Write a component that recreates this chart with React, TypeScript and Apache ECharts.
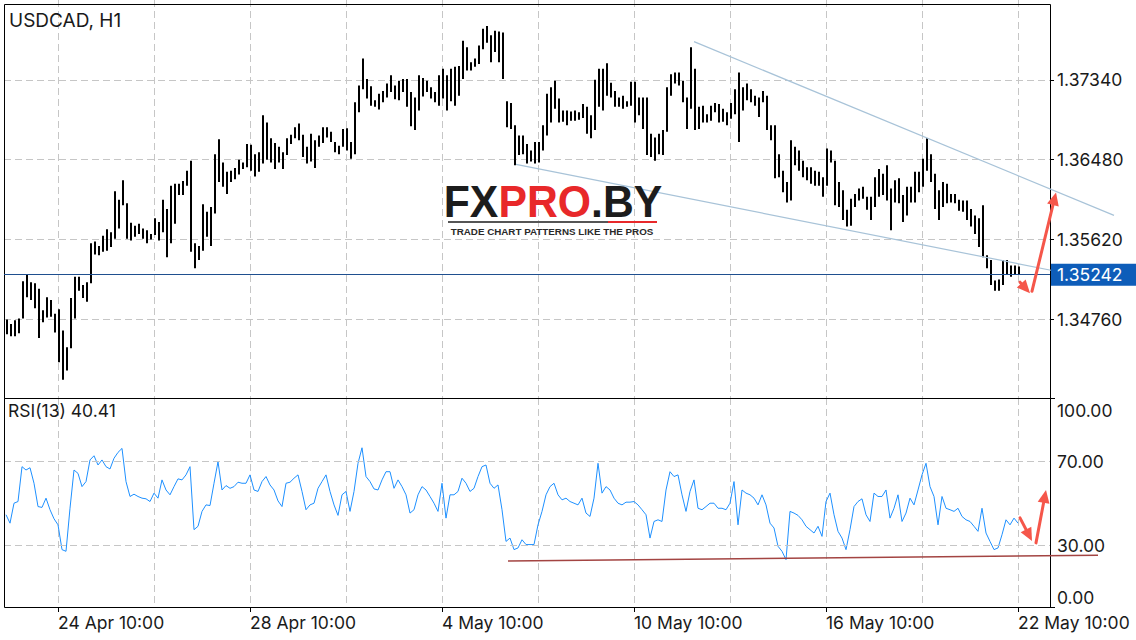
import React, { useEffect, useRef } from 'react';
import * as echarts from 'echarts';

// ---- Data (2-hour aggregated bars) ----
const priceHigh = [
  1.3476, 1.3471, 1.3475, 1.3477, 1.3517, 1.3525, 1.3516, 1.3515, 1.3509, 1.3486,
  1.3500, 1.3497, 1.3482, 1.3487, 1.3464, 1.3446, 1.3499, 1.3522, 1.3522, 1.3513,
  1.3516, 1.3558, 1.3560, 1.3555, 1.3566, 1.3573, 1.3570, 1.3614, 1.3605, 1.3626,
  1.3601, 1.3580, 1.3577, 1.3579, 1.3574, 1.3572, 1.3568, 1.3585, 1.3581, 1.3605,
  1.3595, 1.3620, 1.3622, 1.3622, 1.3625, 1.3636, 1.3647, 1.3558, 1.3555, 1.3600,
  1.3592, 1.3597, 1.3654, 1.3670, 1.3645, 1.3635, 1.3636, 1.3639, 1.3648, 1.3645,
  1.3665, 1.3664, 1.3654, 1.3656, 1.3696, 1.3688, 1.3671, 1.3666, 1.3662, 1.3656,
  1.3671, 1.3675, 1.3683, 1.3687, 1.3675, 1.3662, 1.3676, 1.3669, 1.3674, 1.3683,
  1.3683, 1.3678, 1.3667, 1.3663, 1.3681, 1.3682, 1.3667, 1.3710, 1.3728, 1.3757,
  1.3735, 1.3727, 1.3712, 1.3719, 1.3722, 1.3730, 1.3739, 1.3728, 1.3733, 1.3735,
  1.3735, 1.3721, 1.3715, 1.3739, 1.3736, 1.3733, 1.3726, 1.3721, 1.3739, 1.3746,
  1.3739, 1.3746, 1.3748, 1.3749, 1.3776, 1.3769, 1.3753, 1.3757, 1.3771, 1.3789,
  1.3792, 1.3782, 1.3787, 1.3786, 1.3785, 1.3711, 1.3709, 1.3685, 1.3674, 1.3674,
  1.3665, 1.3658, 1.3667, 1.3667, 1.3685, 1.3719, 1.3726, 1.3733, 1.3714, 1.3701,
  1.3701, 1.3700, 1.3701, 1.3699, 1.3708, 1.3705, 1.3696, 1.3734, 1.3746, 1.3746,
  1.3752, 1.3731, 1.3722, 1.3715, 1.3717, 1.3711, 1.3732, 1.3732, 1.3715, 1.3715,
  1.3715, 1.3676, 1.3672, 1.3676, 1.3680, 1.3726, 1.3740, 1.3742, 1.3742, 1.3733,
  1.3715, 1.3769, 1.3746, 1.3705, 1.3706, 1.3697, 1.3706, 1.3709, 1.3708, 1.3703,
  1.3699, 1.3709, 1.3724, 1.3742, 1.3726, 1.3730, 1.3724, 1.3717, 1.3715, 1.3722,
  1.3717, 1.3685, 1.3685, 1.3654, 1.3636, 1.3624, 1.3669, 1.3662, 1.3658, 1.3647,
  1.3640, 1.3640, 1.3636, 1.3635, 1.3629, 1.3660, 1.3658, 1.3647, 1.3624, 1.3615,
  1.3594, 1.3606, 1.3611, 1.3617, 1.3619, 1.3608, 1.3608, 1.3629, 1.3638, 1.3633,
  1.3642, 1.3617, 1.3626, 1.3628, 1.3610, 1.3619, 1.3619, 1.3635, 1.3635, 1.3649,
  1.3671, 1.3654, 1.3633, 1.3615, 1.3624, 1.3622, 1.3611, 1.3611, 1.3605, 1.3604,
  1.3604, 1.3595, 1.3588, 1.3585, 1.3599, 1.3545, 1.3540, 1.3518, 1.3519, 1.3540,
  1.3540, 1.3534, 1.3534, 1.3533,
];

const priceLow = [
  1.3460, 1.3458, 1.3458, 1.3461, 1.3477, 1.3500, 1.3497, 1.3488, 1.3456, 1.3473,
  1.3478, 1.3479, 1.3462, 1.3430, 1.3411, 1.3421, 1.3445, 1.3477, 1.3507, 1.3499,
  1.3495, 1.3515, 1.3546, 1.3545, 1.3549, 1.3550, 1.3554, 1.3563, 1.3574, 1.3599,
  1.3563, 1.3561, 1.3565, 1.3568, 1.3563, 1.3558, 1.3562, 1.3567, 1.3561, 1.3570,
  1.3543, 1.3558, 1.3579, 1.3610, 1.3610, 1.3620, 1.3549, 1.3531, 1.3540, 1.3550,
  1.3565, 1.3555, 1.3590, 1.3624, 1.3619, 1.3611, 1.3624, 1.3627, 1.3632, 1.3638,
  1.3640, 1.3636, 1.3630, 1.3635, 1.3644, 1.3648, 1.3645, 1.3638, 1.3645, 1.3638,
  1.3653, 1.3665, 1.3671, 1.3669, 1.3651, 1.3644, 1.3646, 1.3639, 1.3662, 1.3666,
  1.3672, 1.3667, 1.3656, 1.3654, 1.3662, 1.3658, 1.3649, 1.3654, 1.3699, 1.3724,
  1.3714, 1.3706, 1.3705, 1.3702, 1.3710, 1.3715, 1.3721, 1.3713, 1.3712, 1.3721,
  1.3705, 1.3684, 1.3680, 1.3701, 1.3716, 1.3721, 1.3714, 1.3710, 1.3706, 1.3714,
  1.3701, 1.3711, 1.3706, 1.3717, 1.3735, 1.3744, 1.3744, 1.3748, 1.3751, 1.3767,
  1.3774, 1.3753, 1.3764, 1.3753, 1.3735, 1.3683, 1.3681, 1.3642, 1.3653, 1.3654,
  1.3644, 1.3646, 1.3644, 1.3645, 1.3658, 1.3674, 1.3688, 1.3703, 1.3688, 1.3689,
  1.3685, 1.3690, 1.3690, 1.3691, 1.3693, 1.3676, 1.3671, 1.3680, 1.3705, 1.3701,
  1.3717, 1.3715, 1.3705, 1.3705, 1.3703, 1.3705, 1.3706, 1.3688, 1.3696, 1.3681,
  1.3653, 1.3651, 1.3647, 1.3654, 1.3653, 1.3678, 1.3717, 1.3730, 1.3728, 1.3710,
  1.3681, 1.3703, 1.3680, 1.3681, 1.3688, 1.3688, 1.3690, 1.3699, 1.3688, 1.3689,
  1.3685, 1.3692, 1.3697, 1.3667, 1.3701, 1.3712, 1.3710, 1.3706, 1.3694, 1.3710,
  1.3680, 1.3669, 1.3628, 1.3629, 1.3613, 1.3602, 1.3604, 1.3642, 1.3636, 1.3629,
  1.3626, 1.3622, 1.3620, 1.3620, 1.3608, 1.3620, 1.3645, 1.3599, 1.3597, 1.3583,
  1.3576, 1.3577, 1.3597, 1.3604, 1.3606, 1.3594, 1.3583, 1.3597, 1.3608, 1.3610,
  1.3604, 1.3572, 1.3602, 1.3601, 1.3581, 1.3588, 1.3602, 1.3602, 1.3613, 1.3619,
  1.3636, 1.3624, 1.3595, 1.3583, 1.3597, 1.3601, 1.3602, 1.3601, 1.3593, 1.3592,
  1.3583, 1.3576, 1.3568, 1.3554, 1.3543, 1.3531, 1.3513, 1.3507, 1.3507, 1.3513,
  1.3524, 1.3522, 1.3524, 1.3525,
];

const rsiValues = [
  44.4, 40.4, 49.9, 50.7, 67.3, 65.7, 66.8, 59.4, 48.3, 47.9,
  52.3, 46.8, 42.5, 39.6, 27.8, 27.0, 47.5, 65.7, 64.1, 57.8,
  60.2, 70.5, 72.5, 68.1, 70.5, 67.3, 66.2, 71.3, 74.1, 76.0,
  60.2, 53.1, 54.2, 53.1, 52.3, 52.0, 50.7, 54.7, 52.3, 61.0,
  56.2, 53.9, 57.8, 61.5, 61.0, 63.4, 67.3, 37.3, 38.9, 46.0,
  49.1, 48.8, 59.4, 69.7, 56.2, 58.3, 57.0, 57.8, 59.9, 59.4,
  59.4, 63.4, 56.2, 55.5, 60.2, 62.6, 58.6, 56.2, 51.0, 48.3,
  59.4, 59.9, 61.8, 63.4, 55.5, 46.8, 49.1, 49.9, 57.0, 60.2,
  63.4, 55.5, 49.1, 44.1, 53.9, 55.5, 46.0, 55.5, 68.9, 76.3,
  62.6, 60.2, 56.7, 56.2, 61.0, 64.9, 64.9, 57.0, 61.0, 57.8,
  53.9, 45.2, 46.8, 53.9, 57.8, 56.2, 53.1, 49.9, 46.0, 59.4,
  42.8, 53.9, 53.9, 55.5, 61.8, 59.4, 55.5, 57.0, 62.6, 67.3,
  68.1, 59.4, 57.0, 58.6, 46.8, 31.7, 33.3, 27.8, 28.6, 32.5,
  30.2, 30.2, 30.2, 39.6, 46.0, 53.9, 57.8, 59.4, 53.9, 51.5,
  52.3, 50.7, 49.9, 49.1, 52.3, 45.2, 43.6, 52.3, 68.9, 54.7,
  57.8, 56.2, 52.3, 49.9, 49.1, 50.4, 50.4, 50.7, 49.1, 46.8,
  44.4, 33.3, 41.2, 42.0, 41.2, 56.2, 64.9, 62.6, 63.4, 53.9,
  46.0, 55.5, 61.0, 47.5, 46.8, 48.3, 49.9, 49.9, 47.5, 47.5,
  46.8, 49.9, 60.2, 39.6, 56.2, 54.7, 53.9, 52.3, 49.1, 53.9,
  49.1, 40.4, 38.1, 29.4, 27.0, 23.0, 46.0, 45.2, 44.1, 42.0,
  38.9, 37.3, 35.7, 38.9, 34.1, 50.7, 54.7, 44.4, 36.5, 33.3,
  27.8, 37.3, 48.3, 50.7, 52.0, 44.4, 41.2, 54.7, 53.1, 53.1,
  56.2, 42.8, 47.5, 53.9, 41.2, 45.2, 52.3, 49.1, 56.2, 63.4,
  68.9, 57.8, 53.1, 39.6, 53.1, 47.5, 46.8, 46.0, 47.5, 43.6,
  42.0, 41.2, 38.9, 36.5, 47.5, 35.7, 31.7, 27.8, 28.6, 34.9,
  42.0, 39.6, 42.8, 40.4,
];

const lastPrice = 1.35242;
const rsiLast = 40.41;
const symbolTitle = 'USDCAD, H1';

// hourly slots on the time axis; bar j sits at slot 2j+1
const slotCount = 524;
const xTickSlots = [27, 123, 219, 315, 411, 507];
const xTickLabels = ['24 Apr 10:00', '28 Apr 10:00', '4 May 10:00', '10 May 10:00', '16 May 10:00', '22 May 10:00'];
const gridSlotStart = 27;
const gridSlotStep = 48;

const priceMin = 1.339;
const priceMax = 1.382;
const priceStep = 0.0086;
const rsiLevels = [30, 70];

// drawn annotations in data units: [slot, value]
const upperTrend = [[345, 1.37752], [555, 1.35881]];
const lowerTrend = [[256, 1.3643], [526, 1.35279]];
const rsiTrend = [[252, 22.4], [547, 25.1]];
const priceArrows = [
  [[508, 1.35161], [513, 1.35043]],
  [[514, 1.35064], [526, 1.36128]],
];
const rsiArrows = [
  [[508, 42.9], [514, 31.9]],
  [[516, 31.0], [521, 56.2]],
];

const FONT = 'Inter, "Liberation Sans", Arial, sans-serif';
const TEXT = '#1a1a1a';
const GRIDC = '#c6c6c6';
const RED = '#f5564a';

export default function App() {
  const ref = useRef<HTMLDivElement>(null);

  useEffect(() => {
    const chart = echarts.init(ref.current as HTMLDivElement, null, { renderer: 'svg' });
    const cats = Array.from({ length: slotCount }, (_, i) => String(i));
    const labelAt = new Map<number, string>(xTickSlots.map((s, i) => [s, xTickLabels[i]]));
    const isGridSlot = (i: number) => i >= gridSlotStart && (i - gridSlotStart) % gridSlotStep === 0;
    const splitLine = { show: true, interval: (i: number) => isGridSlot(i), lineStyle: { color: GRIDC, type: [7, 4], width: 1 } };

    const barData = priceHigh.map((h, j) => [2 * j + 1, h, priceLow[j]]);
    const rsiData = rsiValues.map((v, j) => [2 * j + 1, v]);

    const option: any = {
      animation: false,
      backgroundColor: '#ffffff',
      grid: [
        { left: 4, width: 1046, top: -0.7, height: 400 },
        { left: 4, width: 1046, top: 398, height: 210 },
      ],
      xAxis: [
        {
          type: 'category', gridIndex: 0, data: cats, boundaryGap: false,
          axisLine: { show: false }, axisTick: { show: false }, axisLabel: { show: false },
          splitLine,
        },
        {
          type: 'category', gridIndex: 1, data: cats, boundaryGap: false,
          axisLine: { show: false },
          axisTick: { show: true, interval: (i: number) => labelAt.has(i), length: 4, lineStyle: { color: '#000' } },
          axisLabel: {
            show: true, interval: (i: number) => labelAt.has(i),
            formatter: (v: string) => labelAt.get(Number(v)) || '',
            align: 'left', margin: 5, fontSize: 17.5, color: TEXT, fontFamily: FONT,
          },
          splitLine,
        },
      ],
      yAxis: [
        {
          type: 'value', gridIndex: 0, position: 'right', min: priceMin, max: priceMax, interval: priceStep,
          axisLine: { show: false },
          axisTick: { show: true, length: 4, lineStyle: { color: '#000' } },
          axisLabel: {
            showMinLabel: false, showMaxLabel: false, formatter: (v: number) => v.toFixed(5),
            margin: 7, fontSize: 17.5, color: TEXT, fontFamily: FONT,
          },
          splitLine: { show: true, showMinLine: false, showMaxLine: false, lineStyle: { color: GRIDC, type: [7, 4], width: 1 } },
        },
        {
          type: 'value', gridIndex: 1, position: 'right', min: 0, max: 100, interval: 10,
          axisLine: { show: false }, axisTick: { show: false },
          axisLabel: {
            formatter: (v: number) => (rsiLevels.includes(v) ? v.toFixed(2) : ''),
            margin: 7, fontSize: 17.5, color: TEXT, fontFamily: FONT,
          },
          splitLine: { show: false },
        },
      ],
      series: [
        {
          type: 'custom', xAxisIndex: 0, yAxisIndex: 0, data: barData,
          encode: { x: 0, y: [1, 2] },
          renderItem: (params: any, api: any) => {
            const c = api.value(0);
            const hi = api.coord([c, api.value(1)]);
            const lo = api.coord([c, api.value(2)]);
            return {
              type: 'rect',
              shape: { x: hi[0], y: hi[1], width: 2, height: Math.max(1, lo[1] - hi[1]) },
              style: { fill: '#000' },
            };
          },
        },
        {
          type: 'line', xAxisIndex: 1, yAxisIndex: 1, data: rsiData,
          showSymbol: false, symbol: 'none',
          lineStyle: { color: '#1e90ff', width: 1 },
          markLine: {
            silent: true, symbol: ['none', 'none'], animation: false,
            data: rsiLevels.map((v) => ({ yAxis: v })),
            lineStyle: { color: GRIDC, type: [7, 4], width: 1 },
            label: { show: false },
          },
        },
      ],
    };
    chart.setOption(option);

    const px = (g: number, p: number[]) => chart.convertToPixel({ gridIndex: g } as any, p) as number[];
    const lineEl = (a: number[], b: number[], stroke: string, w: number, z = 50) => ({
      type: 'line', z, silent: true,
      shape: { x1: a[0], y1: a[1], x2: b[0], y2: b[1] },
      style: { stroke, lineWidth: w },
    });
    const arrowEls = (a: number[], b: number[]) => {
      const dx = b[0] - a[0], dy = b[1] - a[1];
      const len = Math.hypot(dx, dy);
      const ux = dx / len, uy = dy / len;
      const hl = 13, hw = 6;
      const bx = b[0] - ux * hl, by = b[1] - uy * hl;
      return [
        { type: 'line', z: 60, silent: true, shape: { x1: a[0], y1: a[1], x2: bx + ux * 2, y2: by + uy * 2 }, style: { stroke: RED, lineWidth: 3, lineCap: 'round' } },
        { type: 'polygon', z: 60, silent: true, shape: { points: [[b[0], b[1]], [bx - uy * hw, by + ux * hw], [bx + uy * hw, by - ux * hw]] }, style: { fill: RED } },
      ];
    };

    const priceY = px(0, [0, lastPrice])[1];
    const lineY = Math.round(priceY) - 0.5;
    const els: any[] = [];
    // frames
    els.push({ type: 'rect', z: 40, silent: true, shape: { x: 4.5, y: 4.5, width: 1046, height: 394 }, style: { fill: 'none', stroke: '#000', lineWidth: 1 } });
    els.push({ type: 'rect', z: 40, silent: true, shape: { x: 4.5, y: 398.5, width: 1046, height: 209 }, style: { fill: 'none', stroke: '#000', lineWidth: 1 } });
    // current price line
    els.push(lineEl([4, lineY], [1050, lineY], '#1f4f8f', 1, 45));
    // trend lines
    els.push(lineEl(px(0, upperTrend[0]), px(0, upperTrend[1]), '#a8c3d8', 1.2));
    els.push(lineEl(px(0, lowerTrend[0]), px(0, lowerTrend[1]), '#a8c3d8', 1.2));
    els.push(lineEl(px(1, rsiTrend[0]), px(1, rsiTrend[1]), '#a34442', 1.5));
    // watermark
    els.push({
      type: 'text', z: 55, silent: true, x: 553, y: 201, scaleX: 0.95,
      style: {
        text: '{k|FX}{r|PRO}{k|.BY}', align: 'center', verticalAlign: 'middle',
        rich: {
          k: { fill: '#1c1c1c', fontSize: 45, fontWeight: 'bold', fontFamily: '"Liberation Sans", Arial, sans-serif' },
          r: { fill: '#e8282a', fontSize: 45, fontWeight: 'bold', fontFamily: '"Liberation Sans", Arial, sans-serif' },
        },
      },
    });
    els.push({ type: 'line', z: 55, silent: true, shape: { x1: 448, y1: 222, x2: 608, y2: 222 }, style: { stroke: '#555', lineWidth: 2 } });
    els.push({ type: 'line', z: 55, silent: true, shape: { x1: 608, y1: 222, x2: 657, y2: 222 }, style: { stroke: '#e8282a', lineWidth: 2 } });
    els.push({
      type: 'text', z: 55, silent: true, x: 552, y: 231,
      style: { text: 'TRADE CHART PATTERNS LIKE THE PROS', align: 'center', verticalAlign: 'middle', fill: '#2a2a2a', fontSize: 9.8, fontWeight: 'bold', fontFamily: '"Liberation Sans", Arial, sans-serif' },
    });
    // arrows
    priceArrows.forEach((a) => els.push(...arrowEls(px(0, a[0]), px(0, a[1]))));
    rsiArrows.forEach((a) => els.push(...arrowEls(px(1, a[0]), px(1, a[1]))));
    // price tag
    els.push({ type: 'rect', z: 70, silent: true, shape: { x: 1051, y: priceY - 11, width: 85, height: 22 }, style: { fill: '#0e5db9' } });
    els.push({ type: 'text', z: 71, silent: true, x: 1057, y: priceY, style: { text: lastPrice.toFixed(5), fill: '#fff', fontSize: 17.5, fontFamily: FONT, align: 'left', verticalAlign: 'middle' } });
    // titles
    els.push({ type: 'text', z: 71, silent: true, x: 9, y: 20, style: { text: symbolTitle, fill: TEXT, fontSize: 19, fontFamily: FONT, align: 'left', verticalAlign: 'middle' } });
    els.push({ type: 'text', z: 71, silent: true, x: 8, y: 410, style: { text: 'RSI(13) ' + rsiLast.toFixed(2), fill: TEXT, fontSize: 17.5, fontFamily: FONT, align: 'left', verticalAlign: 'middle' } });
    els.push({ type: 'text', z: 71, silent: true, x: 1057, y: 410, style: { text: (100).toFixed(2), fill: TEXT, fontSize: 17.5, fontFamily: FONT, align: 'left', verticalAlign: 'middle' } });
    els.push({ type: 'text', z: 71, silent: true, x: 1057, y: 597, style: { text: (0).toFixed(2), fill: TEXT, fontSize: 17.5, fontFamily: FONT, align: 'left', verticalAlign: 'middle' } });
    // small ticks at RSI panel extremes
    els.push({ type: 'line', z: 40, silent: true, shape: { x1: 1050, y1: 398.5, x2: 1055, y2: 398.5 }, style: { stroke: '#000', lineWidth: 1 } });
    els.push({ type: 'line', z: 40, silent: true, shape: { x1: 1050, y1: 607.5, x2: 1055, y2: 607.5 }, style: { stroke: '#000', lineWidth: 1 } });

    chart.setOption({ graphic: { elements: els } });

    return () => chart.dispose();
  }, []);

  return (
    <div
      ref={ref}
      style={{ position: 'fixed', left: 0, top: 0, width: 1136, height: 640, background: '#fff' }}
    />
  );
}
